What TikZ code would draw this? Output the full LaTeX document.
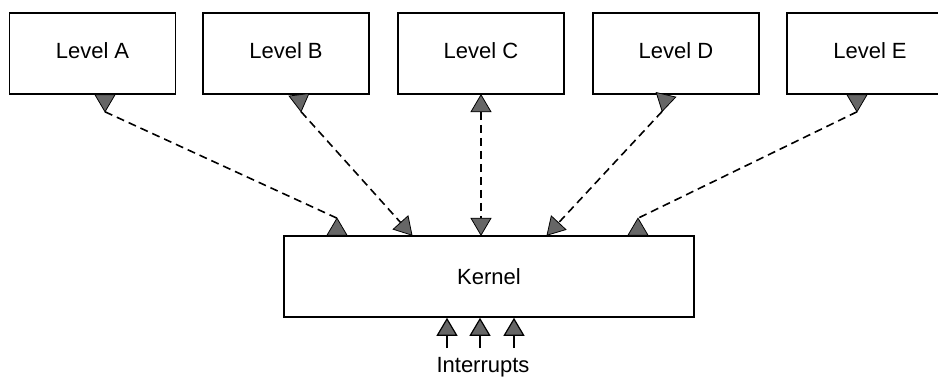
\documentclass[tikz,border=0pt]{standalone}
\usepackage{fontspec}
\setmainfont{Liberation Sans}
\usetikzlibrary{arrows.meta,calc}

\tikzset{
  boxfont/.style={font=\fontsize{22}{26}\selectfont},
  level/.style={draw, line width=1.6pt, minimum width=166pt, minimum height=81pt,
    inner sep=0pt, boxfont, text height=16pt, text depth=5pt},
  kernel/.style={draw, line width=1.6pt, minimum width=410pt, minimum height=81pt,
    inner sep=0pt, boxfont},
  link/.style={line width=1.6pt, dash pattern=on 8pt off 5pt},
  headfill/.style={fill=black!60, draw=black, line width=0.8pt, line join=miter},
  irq/.style={line width=1.2pt, -{Triangle[width=21pt,length=18pt,fill=black!60]}}
}

% triangle whose base sits on a box edge at #1, apex pointing at angle #2; apex named #3
\newcommand\headout[3]{%
  \coordinate (#3) at ($(#1)+(#2:17)$);
  \filldraw[headfill] ($(#1)+(#2+90:10)$) -- (#3) -- ($(#1)+(#2-90:10)$) -- cycle;}
% triangle whose apex touches a box edge at #1, base centre at angle #2; base centre named #3
\newcommand\headin[3]{%
  \coordinate (#3) at ($(#1)+(#2:17)$);
  \filldraw[headfill] ($(#3)+(#2+90:10)$) -- (#1) -- ($(#3)+(#2-90:10)$) -- cycle;}

\begin{document}
\begin{tikzpicture}[x=1pt,y=1pt]
\path[use as bounding box, clip] (0,0) rectangle (938,378);

% levels and kernel
\node[level] (A) at (92.5,324.5) {Level A};
\node[level] (B) at (286,324.5) {Level B};
\node[level] (C) at (481,324.5) {Level C};
\node[level] (D) at (676,324.5) {Level D};
\node[level] (E) at (870,324.5) {Level E};
\node[kernel] (K) at (489,101.5) {Kernel};
\node[boxfont] (irqtext) at (483,11) {Interrupts};

% points where the arrow heads meet the boxes
\coordinate (ea) at ([xshift=12.5pt]A.south);
\coordinate (ka) at ([xshift=-152pt]K.north);
\coordinate (eb) at ([xshift=13pt]B.south);
\coordinate (kb) at ([xshift=-77pt]K.north);
\coordinate (ec) at (C.south);
\coordinate (kc) at (C.south |- K.north);
\coordinate (ed) at ([xshift=-10pt]D.south);
\coordinate (kd) at ([xshift=58pt]K.north);
\coordinate (ee) at ([xshift=-13pt]E.south);
\coordinate (ke) at ([xshift=149pt]K.north);

% arrow heads
\headout{ea}{270}{a1}
\headout{ka}{90}{a2}
\headout{eb}{277}{b1}
\headin{kb}{132}{b2}
\headin{ec}{270}{c1}
\headin{kc}{90}{c2}
\headout{ed}{257}{d1}
\headin{kd}{47}{d2}
\headout{ee}{270}{e1}
\headout{ke}{90}{e2}

% dashed links between levels and kernel
\draw[link] (a1) -- (a2);
\draw[link] (b1) -- (b2);
\draw[link] (c1) -- (c2);
\draw[link] (d1) -- (d2);
\draw[link] (e1) -- (e2);

% interrupt inputs
\coordinate (i1) at (447,30);
\coordinate (i2) at (480,30);
\coordinate (i3) at (514,30);
\draw[irq] (i1) -- (i1 |- K.south);
\draw[irq] (i2) -- (i2 |- K.south);
\draw[irq] (i3) -- (i3 |- K.south);
\end{tikzpicture}
\end{document}
